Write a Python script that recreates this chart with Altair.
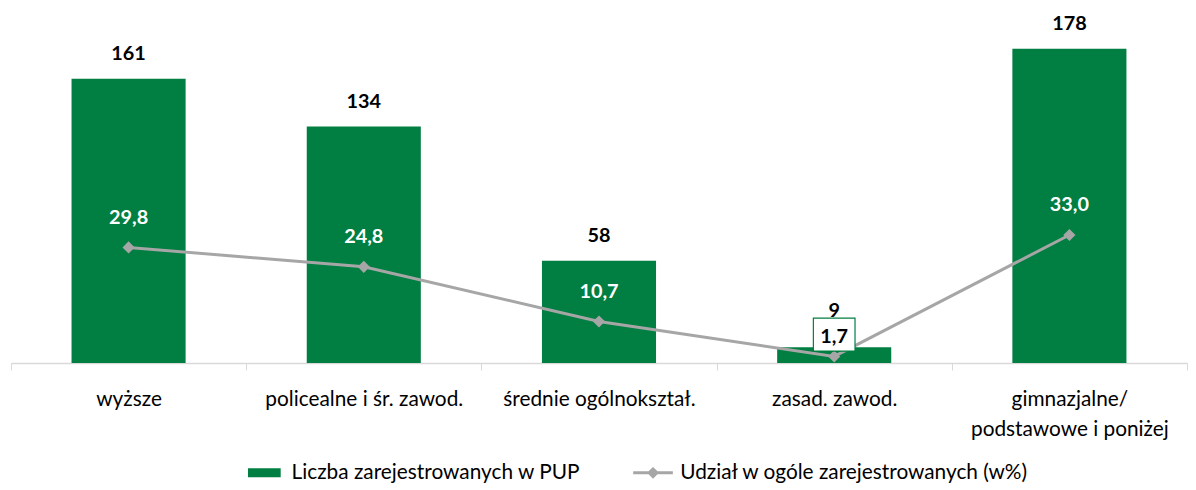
import altair as alt
import pandas as pd

categories = ["wyższe", "policealne i śr. zawod.", "średnie ogólnokształ.",
              "zasad. zawod.", "gimnazjalne/|podstawowe i poniżej"]
counts = [161, 134, 58, 9, 178]
shares = [29.8, 24.8, 10.7, 1.7, 33.0]
boxed = [False, False, False, True, False]
series = ["Liczba zarejestrowanych w PUP", "Udział w ogóle zarejestrowanych (w%)"]

df = pd.DataFrame({"cat": categories, "count": counts, "share": shares, "boxed": boxed})
df["count_label"] = [str(v) for v in counts]
df["share_label"] = [f"{v:.1f}".replace(".", ",") for v in shares]
df["series_bar"] = series[0]
legend_df = pd.DataFrame({"series": series, "cat": categories[0], "share": 0.0})

GREEN = "#017E41"
GRAY = "#A6A6A6"
FONT = "Lato"
FS = 21
NFS = 20

x = alt.X("cat:N", sort=categories, title=None,
          scale=alt.Scale(paddingInner=0, paddingOuter=0),
          axis=alt.Axis(labelExpr="split(datum.label, '|')", labelAngle=0,
                        labelFontSize=FS, labelFont=FONT, labelColor="#000000",
                        labelPadding=19, labelLineHeight=30, labelLimit=400,
                        domainColor="#D9D9D9", tickColor="#D9D9D9",
                        tickBand="extent", tickSize=7, domainWidth=1.5))
ybar = alt.Y("count:Q", scale=alt.Scale(domain=[0, 200]), axis=None)
yline = alt.Y("share:Q", scale=alt.Scale(domain=[0, 91]), axis=None)

rect_path = "M-1.65,-0.45H1.65V0.45H-1.65Z"
line_diamond = "M-2,-0.15H-0.45L0,-0.6L0.45,-0.15H2V0.15H0.45L0,0.6L-0.45,0.15H-2Z"
legend = alt.Legend(title=None, orient="none", direction="horizontal",
                    legendX=245, legendY=456,
                    labelFontSize=FS, labelFont=FONT, labelColor="#000000",
                    labelLimit=500,
                    symbolSize=400, symbolStrokeWidth=0, columnPadding=52,
                    labelOffset=17)
color_scale = alt.Scale(domain=series, range=[GREEN, GRAY])
shape_scale = alt.Scale(domain=series, range=[rect_path, line_diamond])

base = alt.Chart(df)

bars = base.mark_bar(width=alt.RelativeBandSize(0.485)).encode(
    x=x, y=ybar,
    color=alt.Color("series_bar:N", scale=color_scale, legend=legend))
bar_text = base.transform_filter("!datum.boxed").mark_text(
    dy=-25, fontSize=NFS, fontWeight="bold", font=FONT,
    color="#000000").encode(x=x, y=ybar, text="count_label:N")
bar_text_shifted = base.transform_filter("datum.boxed").mark_text(
    dy=-36, fontSize=NFS, fontWeight="bold", font=FONT,
    color="#000000").encode(x=x, y=ybar, text="count_label:N")

line = base.mark_line(color=GRAY, strokeWidth=3).encode(x=x, y=yline)
pts = base.mark_point(shape="diamond", filled=True, color=GRAY, size=150,
                      opacity=1).encode(x=x, y=yline)
legend_layer = alt.Chart(legend_df).transform_filter("false").mark_point(
    filled=True, opacity=1).encode(
    x=x, y=yline,
    color=alt.Color("series:N", scale=color_scale, legend=legend),
    shape=alt.Shape("series:N", scale=shape_scale, legend=legend))

share_text = base.transform_filter("!datum.boxed").mark_text(
    dy=-30, fontSize=NFS, fontWeight="bold", font=FONT, color="#FFFFFF").encode(
    x=x, y=yline, text="share_label:N")
box = base.transform_filter("datum.boxed").mark_point(
    shape="M-1,-0.79H1V0.79H-1Z", size=1764, filled=True, fill="#FFFFFF",
    stroke=GREEN, strokeWidth=1.2, opacity=1, yOffset=-22).encode(x=x, y=yline)
box_text = base.transform_filter("datum.boxed").mark_text(
    dy=-20, fontSize=NFS, fontWeight="bold", font=FONT, color="#000000").encode(
    x=x, y=yline, text="share_label:N")

chart = alt.layer(
    bars, line, pts, legend_layer, box, share_text, box_text, bar_text,
    bar_text_shifted
).resolve_scale(y="independent").properties(
    width=1186, height=356, background="#FFFFFF",
    padding={"left": 2, "top": 0, "right": 0, "bottom": 0},
).configure_view(stroke=None)

chart.save("out.html", embed_options={"renderer": "svg", "actions": False})
